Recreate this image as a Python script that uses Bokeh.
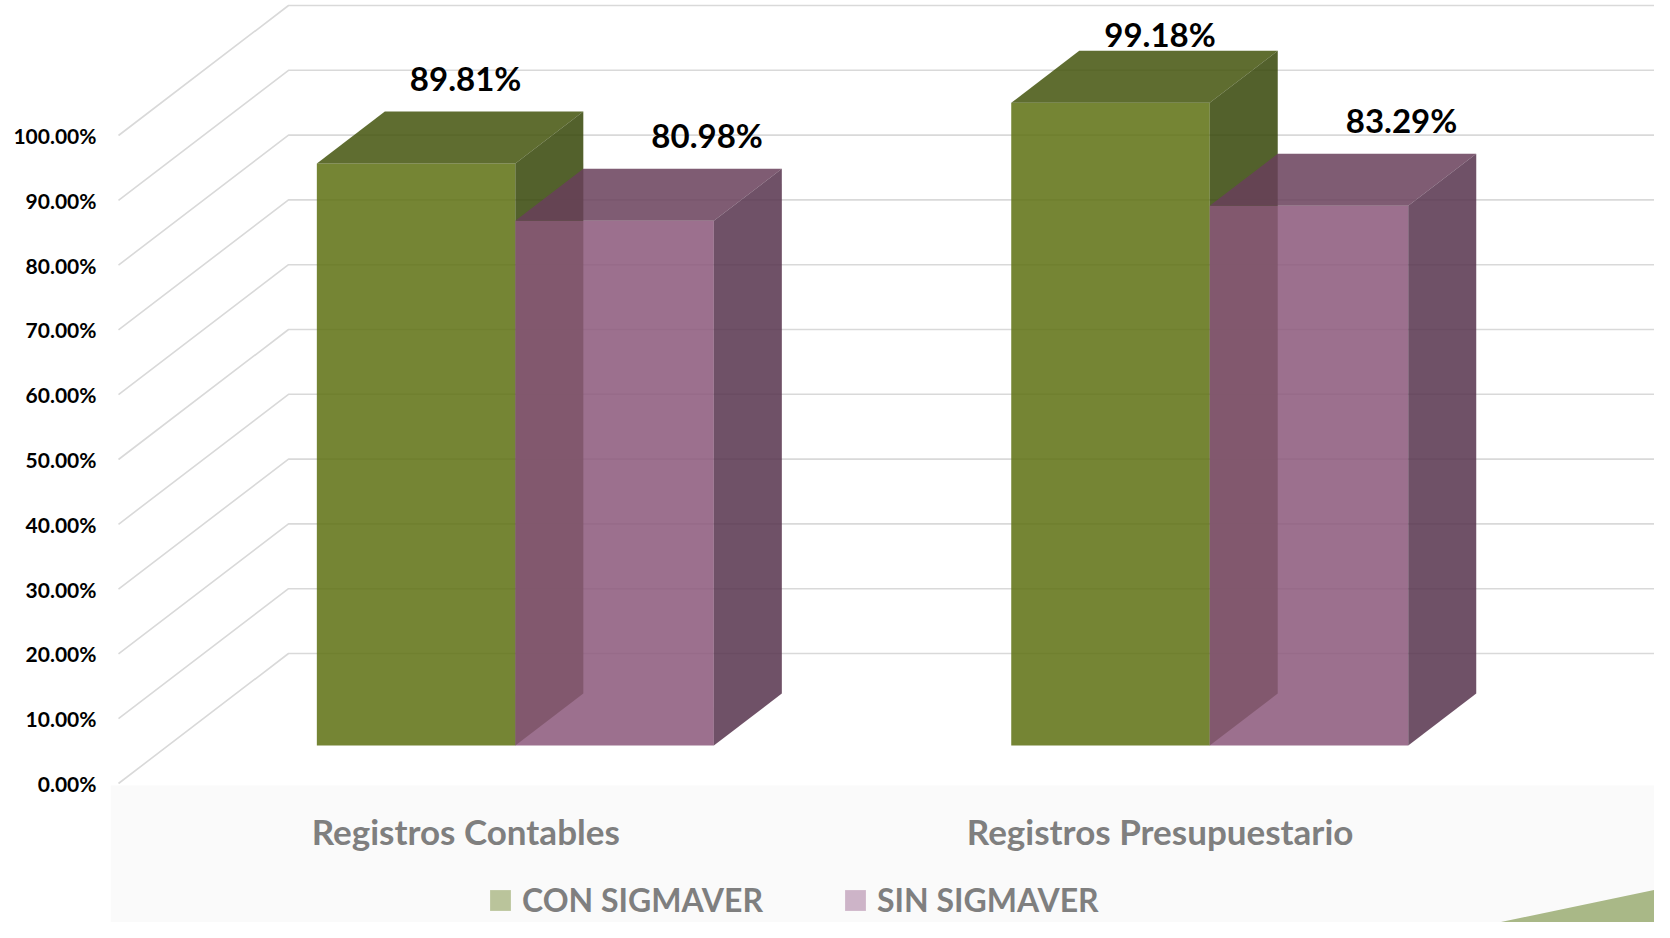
from bokeh.plotting import figure
from bokeh.models import Range1d, FixedTicker, Legend, LegendItem
from bokeh.core.properties import value
from bokeh.embed import file_html
from bokeh.resources import INLINE

# ---------------- data ----------------
CATEGORIES = ["Registros Contables", "Registros Presupuestario"]
SERIES = ["CON SIGMAVER", "SIN SIGMAVER"]
CON_SIGMAVER = [89.81, 99.18]
SIN_SIGMAVER = [80.98, 83.29]
Y_TICKS = [0, 10, 20, 30, 40, 50, 60, 70, 80, 90, 100]
Y_TICK_LABELS = ["0.00%", "10.00%", "20.00%", "30.00%", "40.00%", "50.00%",
                 "60.00%", "70.00%", "80.00%", "90.00%", "100.00%"]
SERIES_VALUES = [CON_SIGMAVER, SIN_SIGMAVER]

# ---------------- styles ----------------
FACE_ALPHA = 0.85
FRONT_COLORS = ["#5D7010", "#8B577A"]
TOP_COLORS = ["#43540C", "#68405A"]
SIDE_COLORS = ["#354507", "#56324C"]
LEGEND_COLORS = ["#BAC49B", "#CDB4C8"]
GRID_COLOR = "#D9D9D9"
FONT = "Lato"

# ---------------- layout (screen pixels) ----------------
FIG_W, FIG_H = 1654, 922
PAGE_OFF = 0
FRAME_LEFT_PAGE = 110
X0, Y0 = 118.0, 783.0          # floor front-left corner
PX_CAT = 694.4                 # pixels per category
PX_PCT = 6.48                  # pixels per percentage point
DEPTH_PX = (170.0, 130.0)      # projected depth of the floor
BAR_W_PX = 198.5
BAR_D0, BAR_D1 = 0.292, 0.692  # bar depth span (fraction of floor depth)
LABEL_DX_PX = [49.5, 92.5]
LABEL_DY_PX = 34.0
LABEL_TOP_PAGE = 33.0
CAT_LABEL_PAGE_Y = 830.0


def u(px):
    return (px - X0) / PX_CAT


def v(py):
    return (Y0 - py) / PX_PCT


DX = DEPTH_PX[0] / PX_CAT
DY = DEPTH_PX[1] / PX_PCT
BW = BAR_W_PX / PX_CAT
N_CAT = len(CATEGORIES)
N_SER = len(SERIES)

p = figure(width=FIG_W, height=FIG_H, output_backend="svg", toolbar_location=None,
           x_range=Range1d(u(FRAME_LEFT_PAGE), u(PAGE_OFF + FIG_W)),
           y_range=Range1d(v(PAGE_OFF + FIG_H), v(PAGE_OFF)),
           x_axis_location=None, min_border_left=FRAME_LEFT_PAGE - PAGE_OFF,
           min_border_right=0, min_border_top=0, min_border_bottom=0)
p.outline_line_color = None
p.xgrid.visible = False
p.ygrid.visible = False
p.background_fill_color = "white"
p.border_fill_color = "white"

# y axis
ax = p.yaxis[0]
ax.ticker = FixedTicker(ticks=Y_TICKS)
ax.major_label_overrides = {t: lab for t, lab in zip(Y_TICKS, Y_TICK_LABELS)}
ax.axis_line_color = None
ax.major_tick_line_color = None
ax.minor_tick_line_color = None
ax.major_tick_out = 0
ax.major_tick_in = 0
ax.major_label_standoff = 14
ax.major_label_text_font = FONT
ax.major_label_text_font_style = "bold"
ax.major_label_text_font_size = "21px"
ax.major_label_text_color = "#000000"

xr0, xr1 = p.x_range.start, p.x_range.end
yr0, yr1 = p.y_range.start, p.y_range.end

# light slide band at the bottom
p.quad(left=[xr0], right=[xr1], top=[v(785)], bottom=[yr0 - 5],
       fill_color="#FAFAFA", line_color=None, level="underlay")

# decorative triangle anchored at the bottom-right corner
p.patch(x=[u(1495), xr1 + 0.05, xr1 + 0.05],
        y=[yr0 - 0.1, yr0 + 40.0 / PX_PCT, yr0 - 0.1],
        fill_color="#A9B887", line_color=None)

# 3D gridlines: side wall diagonals + back wall horizontals
gx, gy = [], []
for t in Y_TICKS:
    gx.append([0, DX, N_CAT + DX])
    gy.append([t, t + DY, t + DY])
p.multi_line(xs=gx, ys=gy, line_color=GRID_COLOR, line_width=1.6)

# 3D bars
for s in range(N_SER):
    fxs, fys, txs, tys, sxs, sys_ = [], [], [], [], [], []
    for i in range(N_CAT):
        val = SERIES_VALUES[s][i]
        c = i + 0.5
        left = c - N_SER * BW / 2 + s * BW
        right = left + BW
        a0x, a0y = BAR_D0 * DX, BAR_D0 * DY
        a1x, a1y = BAR_D1 * DX, BAR_D1 * DY
        fxs.append([left + a0x, right + a0x, right + a0x, left + a0x])
        fys.append([a0y, a0y, val + a0y, val + a0y])
        txs.append([left + a0x, right + a0x, right + a1x, left + a1x])
        tys.append([val + a0y, val + a0y, val + a1y, val + a1y])
        sxs.append([right + a0x, right + a1x, right + a1x, right + a0x])
        sys_.append([a0y, a1y, val + a1y, val + a0y])
    p.patches(xs=fxs, ys=fys, fill_color=FRONT_COLORS[s], fill_alpha=FACE_ALPHA, line_color=None)
    p.patches(xs=txs, ys=tys, fill_color=TOP_COLORS[s], fill_alpha=FACE_ALPHA, line_color=None)
    p.patches(xs=sxs, ys=sys_, fill_color=SIDE_COLORS[s], fill_alpha=FACE_ALPHA, line_color=None)

# data labels
lx, ly, lt = [], [], []
for s in range(N_SER):
    for i in range(N_CAT):
        val = SERIES_VALUES[s][i]
        c = i + 0.5
        left = c - N_SER * BW / 2 + s * BW
        front_center = left + BW / 2 + BAR_D0 * DX
        lx.append(front_center + LABEL_DX_PX[s] / PX_CAT)
        ly.append(min(val + BAR_D1 * DY + LABEL_DY_PX / PX_PCT, v(LABEL_TOP_PAGE)))
        lt.append(f"{val:.2f}%")
p.text(x=lx, y=ly, text=lt, text_font=value(FONT), text_font_style="bold",
       text_font_size="33px", text_color="#000000", text_align="center",
       text_baseline="middle")

# category labels
p.text(x=[i + 0.5 for i in range(N_CAT)], y=[v(CAT_LABEL_PAGE_Y)] * N_CAT, text=CATEGORIES,
       text_font=value(FONT), text_font_style="bold", text_font_size="35px",
       text_color="#7F7F7F", text_align="center", text_baseline="middle")

# legend
nan = float("nan")
items = []
for s, name in enumerate(SERIES):
    r = p.quad(left=[nan], right=[nan], top=[nan], bottom=[nan],
               fill_color=LEGEND_COLORS[s], line_color=None)
    items.append(LegendItem(label=name, renderers=[r]))
legend = Legend(items=items, orientation="horizontal", location=(377, 3),
                label_text_font=FONT, label_text_font_style="bold",
                label_text_font_size="32px", label_text_color="#7F7F7F",
                glyph_width=26, glyph_height=26, label_height=26, label_standoff=9,
                spacing=79, padding=0, margin=0, border_line_color=None,
                background_fill_alpha=0)
p.add_layout(legend)

open("out.html", "w").write(file_html(p, INLINE))
